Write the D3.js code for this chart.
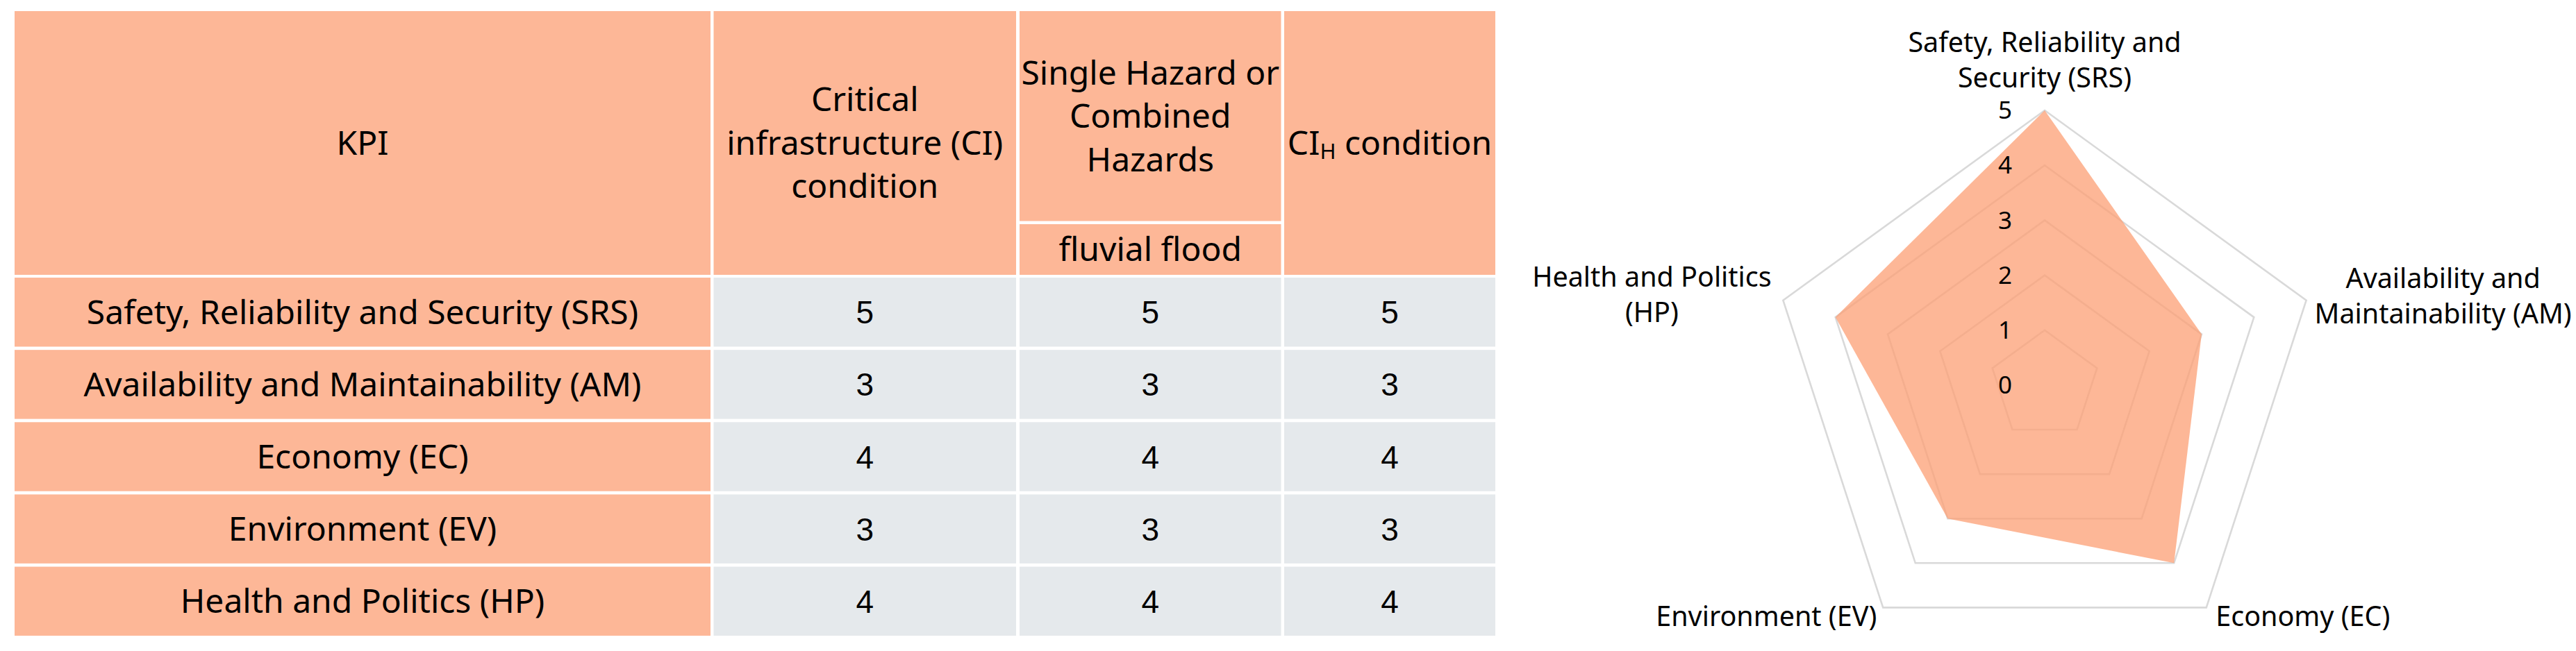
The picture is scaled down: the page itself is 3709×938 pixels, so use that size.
<!DOCTYPE html>
<html>
<head>
<meta charset="utf-8">
<script src="https://cdn.jsdelivr.net/npm/d3@7"></script>
<style>
  body { margin: 0; background: #fff; }
  svg { display: block; }
  text { font-family: 'Noto Sans', sans-serif; fill: #000; }
</style>
</head>
<body>
<svg id="chart"></svg>
<script>
// ---- data ----
const kpis = [
  'Safety, Reliability and Security (SRS)',
  'Availability and Maintainability (AM)',
  'Economy (EC)',
  'Environment (EV)',
  'Health and Politics (HP)'
];
const ciCondition  = [5, 3, 4, 3, 4];
const fluvialFlood = [5, 3, 4, 3, 4];
const ciHCondition = [5, 3, 4, 3, 4];

const radarLabels = [
  ['Safety, Reliability and', 'Security (SRS)'],
  ['Availability and', 'Maintainability (AM)'],
  ['Economy (EC)'],
  ['Environment (EV)'],
  ['Health and Politics', '(HP)']
];
const radarTicks = [0, 1, 2, 3, 4, 5];

// ---- page ----
const W = 3709, H = 938;
const peach = '#fdb797', grey = '#e5e9ec';
const tableFont = 48, radarFont = 39.5, tickFont = 35;

const svg = d3.select('#chart').attr('width', W).attr('height', H);

// ---- table ----
const cols = [
  { x0: 21,     x1: 1023 },
  { x0: 1027.5, x1: 1463 },
  { x0: 1468,   x1: 1844.5 },
  { x0: 1849,   x1: 2153 }
];
const headTop = 16, headBottom = 396, subSplit = [318.5, 323];

const y = d3.scaleBand()
  .domain(kpis)
  .range([397.7, 918.3])
  .paddingInner(0.045)
  .paddingOuter(0.0225);

const table = svg.append('g');

// header cells
const headCells = [
  { c: 0, y0: headTop, y1: headBottom, lines: ['KPI'] },
  { c: 1, y0: headTop, y1: headBottom, lines: ['Critical', 'infrastructure (CI)', 'condition'] },
  { c: 2, y0: headTop, y1: subSplit[0], lines: ['Single Hazard or', 'Combined', 'Hazards'] },
  { c: 2, y0: subSplit[1], y1: headBottom, lines: ['fluvial flood'] },
  { c: 3, y0: headTop, y1: headBottom, lines: null }
];
const lh = 62.5;

headCells.forEach(h => {
  const col = cols[h.c];
  table.append('rect')
    .attr('x', col.x0).attr('y', h.y0)
    .attr('width', col.x1 - col.x0).attr('height', h.y1 - h.y0)
    .attr('fill', peach);
  const cx = (col.x0 + col.x1) / 2, cy = (h.y0 + h.y1) / 2;
  if (h.lines) {
    const t = table.append('text')
      .attr('text-anchor', 'middle')
      .attr('font-size', tableFont);
    h.lines.forEach((l, i) => {
      t.append('tspan')
        .attr('x', cx)
        .attr('y', cy + (i - (h.lines.length - 1) / 2) * lh)
        .attr('dy', '0.35em')
        .text(l);
    });
  } else {
    // CI with subscript H
    const t = table.append('text')
      .attr('x', cx).attr('y', cy).attr('dy', '0.35em')
      .attr('text-anchor', 'middle')
      .attr('font-size', tableFont);
    t.append('tspan').text('CI');
    t.append('tspan').attr('font-size', tableFont * 0.65).attr('dy', 6).text('H');
    t.append('tspan').attr('dy', -6).text(' condition');
  }
});

// body rows
const valueCols = [ciCondition, fluvialFlood, ciHCondition];
kpis.forEach((k, i) => {
  const y0 = y(k), bh = y.bandwidth();
  table.append('rect')
    .attr('x', cols[0].x0).attr('y', y0)
    .attr('width', cols[0].x1 - cols[0].x0).attr('height', bh)
    .attr('fill', peach);
  table.append('text')
    .attr('x', (cols[0].x0 + cols[0].x1) / 2).attr('y', y0 + bh / 2).attr('dy', '0.35em')
    .attr('text-anchor', 'middle').attr('font-size', tableFont)
    .text(k);
  valueCols.forEach((vals, j) => {
    const col = cols[j + 1];
    table.append('rect')
      .attr('x', col.x0).attr('y', y0)
      .attr('width', col.x1 - col.x0).attr('height', bh)
      .attr('fill', grey);
    table.append('text')
      .attr('x', (col.x0 + col.x1) / 2).attr('y', y0 + bh / 2).attr('dy', '0.36em')
      .attr('text-anchor', 'middle').attr('font-size', 46)
      .style('font-family', "'Liberation Sans', Arial, sans-serif")
      .text(vals[i]);
  });
});

// ---- radar ----
const cx = 2944, cy = 555;
const r = d3.scaleLinear().domain([0, 5]).range([0, 396]);
const n = kpis.length;
const angle = i => i * 2 * Math.PI / n;

const radial = d3.lineRadial()
  .angle((d, i) => angle(i))
  .radius(d => r(d))
  .curve(d3.curveLinearClosed);

const radar = svg.append('g').attr('transform', `translate(${cx},${cy})`);

radar.selectAll('path.ring')
  .data(radarTicks.filter(t => t > 0))
  .enter().append('path')
  .attr('class', 'ring')
  .attr('d', t => radial(d3.range(n).map(() => t)))
  .attr('fill', 'none')
  .attr('stroke', '#d9d9d9')
  .attr('stroke-width', 2.6);

radar.append('path')
  .attr('d', radial(ciHCondition))
  .attr('fill', 'rgb(252,159,116)')
  .attr('fill-opacity', 0.75);

radar.selectAll('text.tick')
  .data(radarTicks)
  .enter().append('text')
  .attr('class', 'tick')
  .attr('x', -57)
  .attr('y', t => -r(t))
  .attr('dy', '0.35em')
  .attr('text-anchor', 'middle')
  .attr('font-size', tickFont)
  .text(t => t);

// label offsets from the outer vertex (first baseline)
const labelOffsets = [[0, -84], [197, -18], [139, 27], [-168, 27], [-189, -20]];
radarLabels.forEach((lines, i) => {
  const a = angle(i);
  const vx = Math.sin(a) * r(5), vy = -Math.cos(a) * r(5);
  const t = radar.append('text')
    .attr('text-anchor', 'middle')
    .attr('font-size', radarFont);
  lines.forEach((l, j) => {
    t.append('tspan')
      .attr('x', vx + labelOffsets[i][0])
      .attr('y', vy + labelOffsets[i][1] + j * 51)
      .text(l);
  });
});
</script>
</body>
</html>
